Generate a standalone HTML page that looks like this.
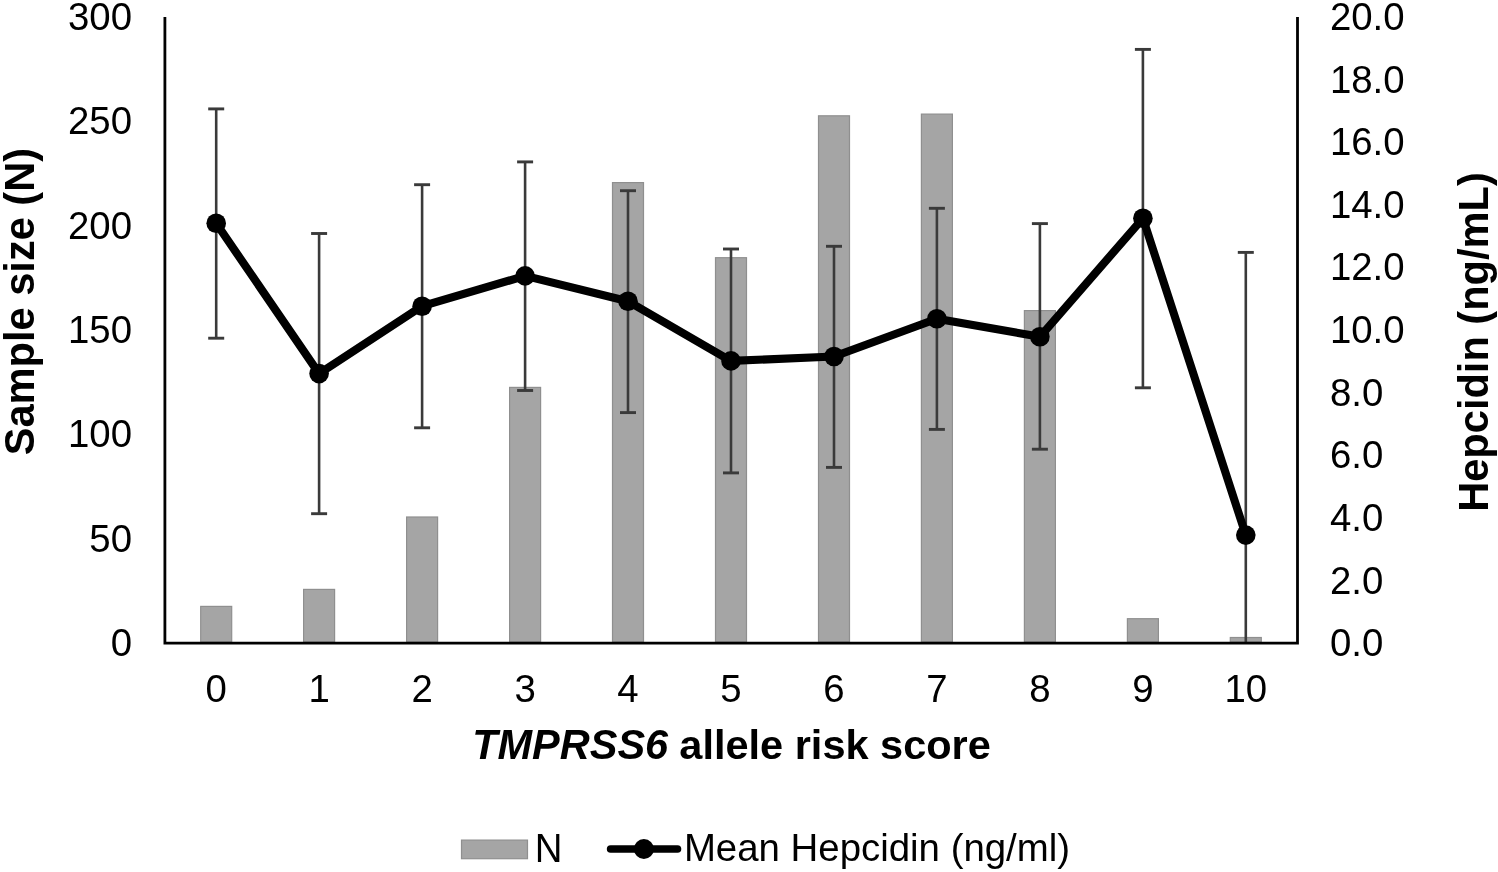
<!DOCTYPE html>
<html lang="en"><head><meta charset="utf-8"><title>TMPRSS6 allele risk score</title>
<style>
html,body{margin:0;padding:0;background:#fff;}
body{width:1498px;height:872px;overflow:hidden;}
svg{display:block;}
text{font-family:"Liberation Sans",Arial,Helvetica,sans-serif;fill:#000;}
.t{font-size:38.4px;}
.a{font-size:41.6px;font-weight:bold;}
</style></head><body>
<svg width="1498" height="872" viewBox="0 0 1498 872">
<rect width="1498" height="872" fill="#fff"/>

<g fill="#a5a5a5" stroke="#8f8f8f" stroke-width="1.2">
<rect x="200.7" y="606.4" width="31.0" height="35.4"/>
<rect x="303.6" y="589.4" width="31.0" height="52.4"/>
<rect x="406.6" y="517.0" width="31.0" height="124.8"/>
<rect x="509.6" y="387.4" width="31.0" height="254.4"/>
<rect x="612.5" y="182.6" width="31.0" height="459.2"/>
<rect x="715.5" y="257.7" width="31.0" height="384.1"/>
<rect x="818.5" y="115.8" width="31.0" height="526.0"/>
<rect x="921.4" y="114.1" width="31.0" height="527.7"/>
<rect x="1024.4" y="310.6" width="31.0" height="331.2"/>
<rect x="1127.4" y="618.7" width="31.0" height="23.1"/>
<rect x="1230.3" y="637.5" width="31.0" height="4.3"/>
</g>
<g stroke="#3a3a3a" stroke-width="2.6" fill="none">
<path d="M216.2 108.8V338.3"/>
<path stroke-width="2.9" d="M208.2 108.9H224.2"/>
<path stroke-width="2.9" d="M208.2 338.2H224.2"/>
<path d="M319.1 233.4V513.8"/>
<path stroke-width="2.9" d="M311.1 233.5H327.1"/>
<path stroke-width="2.9" d="M311.1 513.7H327.1"/>
<path d="M422.1 184.6V427.9"/>
<path stroke-width="2.9" d="M414.1 184.7H430.1"/>
<path stroke-width="2.9" d="M414.1 427.8H430.1"/>
<path d="M525.1 161.8V390.6"/>
<path stroke-width="2.9" d="M517.1 161.9H533.1"/>
<path stroke-width="2.9" d="M517.1 390.5H533.1"/>
<path d="M628.0 190.6V412.7"/>
<path stroke-width="2.9" d="M620.0 190.7H636.0"/>
<path stroke-width="2.9" d="M620.0 412.6H636.0"/>
<path d="M731.0 248.9V473.0"/>
<path stroke-width="2.9" d="M723.0 249.0H739.0"/>
<path stroke-width="2.9" d="M723.0 472.9H739.0"/>
<path d="M834.0 246.2V467.5"/>
<path stroke-width="2.9" d="M826.0 246.3H842.0"/>
<path stroke-width="2.9" d="M826.0 467.4H842.0"/>
<path d="M936.9 208.2V429.5"/>
<path stroke-width="2.9" d="M928.9 208.3H944.9"/>
<path stroke-width="2.9" d="M928.9 429.4H944.9"/>
<path d="M1039.9 223.5V449.3"/>
<path stroke-width="2.9" d="M1031.9 223.6H1047.9"/>
<path stroke-width="2.9" d="M1031.9 449.2H1047.9"/>
<path d="M1142.9 49.3V387.9"/>
<path stroke-width="2.9" d="M1134.9 49.4H1150.9"/>
<path stroke-width="2.9" d="M1134.9 387.8H1150.9"/>
<path d="M1245.8 252.3V643.2"/>
<path stroke-width="2.9" d="M1237.8 252.4H1253.8"/>
</g>
<path d="M164.9 17.0V643.2H1297.5V17.0" fill="none" stroke="#000" stroke-width="2.8" stroke-linejoin="miter"/>
<polyline points="216.2,223.3 319.1,373.6 422.1,306.2 525.1,275.9 628.0,301.2 731.0,360.9 834.0,356.5 936.9,318.7 1039.9,336.8 1142.9,218.3 1245.8,535.1" fill="none" stroke="#000" stroke-width="8.1" stroke-linejoin="round" stroke-linecap="round"/>
<g fill="#000">
<circle cx="216.2" cy="223.3" r="9.8"/>
<circle cx="319.1" cy="373.6" r="9.8"/>
<circle cx="422.1" cy="306.2" r="9.8"/>
<circle cx="525.1" cy="275.9" r="9.8"/>
<circle cx="628.0" cy="301.2" r="9.8"/>
<circle cx="731.0" cy="360.9" r="9.8"/>
<circle cx="834.0" cy="356.5" r="9.8"/>
<circle cx="936.9" cy="318.7" r="9.8"/>
<circle cx="1039.9" cy="336.8" r="9.8"/>
<circle cx="1142.9" cy="218.3" r="9.8"/>
<circle cx="1245.8" cy="535.1" r="9.8"/>
</g>
<g class="t" text-anchor="end">
<text transform="translate(132.0 656.1) scale(1 1.025)">0</text>
<text transform="translate(132.0 551.7) scale(1 1.025)">50</text>
<text transform="translate(132.0 447.4) scale(1 1.025)">100</text>
<text transform="translate(132.0 343.0) scale(1 1.025)">150</text>
<text transform="translate(132.0 238.6) scale(1 1.025)">200</text>
<text transform="translate(132.0 134.3) scale(1 1.025)">250</text>
<text transform="translate(132.0 29.9) scale(1 1.025)">300</text>
</g>
<g class="t" text-anchor="start">
<text transform="translate(1329.9 656.1) scale(1 1.025)">0.0</text>
<text transform="translate(1329.9 593.5) scale(1 1.025)">2.0</text>
<text transform="translate(1329.9 530.9) scale(1 1.025)">4.0</text>
<text transform="translate(1329.9 468.2) scale(1 1.025)">6.0</text>
<text transform="translate(1329.9 405.6) scale(1 1.025)">8.0</text>
<text transform="translate(1329.9 343.0) scale(1 1.025)">10.0</text>
<text transform="translate(1329.9 280.4) scale(1 1.025)">12.0</text>
<text transform="translate(1329.9 217.8) scale(1 1.025)">14.0</text>
<text transform="translate(1329.9 155.1) scale(1 1.025)">16.0</text>
<text transform="translate(1329.9 92.5) scale(1 1.025)">18.0</text>
<text transform="translate(1329.9 29.9) scale(1 1.025)">20.0</text>
</g>
<g class="t" text-anchor="middle">
<text transform="translate(216.2 701.8) scale(1 1.025)">0</text>
<text transform="translate(319.1 701.8) scale(1 1.025)">1</text>
<text transform="translate(422.1 701.8) scale(1 1.025)">2</text>
<text transform="translate(525.1 701.8) scale(1 1.025)">3</text>
<text transform="translate(628.0 701.8) scale(1 1.025)">4</text>
<text transform="translate(731.0 701.8) scale(1 1.025)">5</text>
<text transform="translate(834.0 701.8) scale(1 1.025)">6</text>
<text transform="translate(936.9 701.8) scale(1 1.025)">7</text>
<text transform="translate(1039.9 701.8) scale(1 1.025)">8</text>
<text transform="translate(1142.9 701.8) scale(1 1.025)">9</text>
<text transform="translate(1245.8 701.8) scale(1 1.025)">10</text>
</g>
<text class="a" font-style="italic" style="font-size:41.5px" transform="translate(472.2 758.8) scale(1 1.045)">TMPRSS6</text>
<text class="a" style="font-size:41.5px" x="667.82" y="758.8" xml:space="preserve"> allele risk score</text>
<text class="a" text-anchor="middle" transform="translate(33.6 301.6) rotate(-90) scale(1 1.01)">Sample size (N)</text>
<text class="a" text-anchor="middle" transform="translate(1487.7 342.0) rotate(-90) scale(1 1.01)">Hepcidin (ng/mL)</text>
<rect x="461.5" y="840.1" width="66" height="18.6" fill="#a5a5a5" stroke="#8f8f8f" stroke-width="1.2"/>
<text class="t" transform="translate(534.7 861.5) scale(1 1.045)">N</text>
<path d="M610.6 849H677.5" stroke="#000" stroke-width="7.6" stroke-linecap="round" fill="none"/>
<circle cx="643.9" cy="849" r="10" fill="#000"/>
<text class="t" x="683.9" y="861.4">Mean Hepcidin (ng/ml)</text>
</svg></body></html>
